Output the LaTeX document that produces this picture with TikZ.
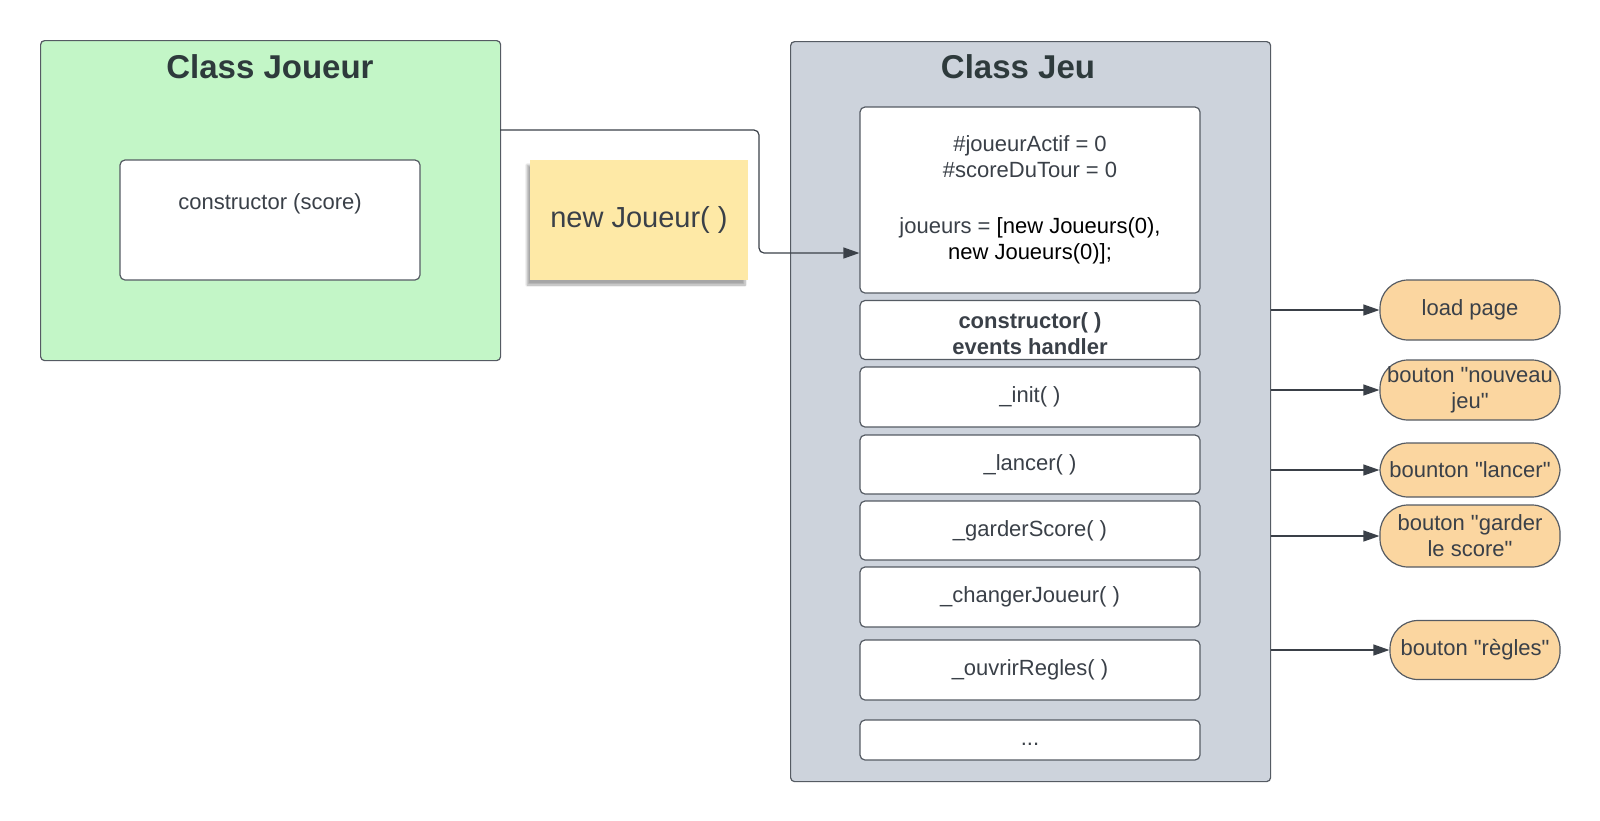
\documentclass[tikz,border=0pt]{standalone}
\usepackage{fontspec}
\setmainfont[Ligatures = TeXOff]{Liberation Sans}
\usetikzlibrary{arrows.meta, shadows.blur}

\definecolor{joueurgreen}{HTML}{C3F6C7}
\definecolor{jeugray}{HTML}{CDD3DC}
\definecolor{btnorange}{HTML}{FBD6A0}
\definecolor{noteyellow}{HTML}{FEE9A6}
\definecolor{edge}{HTML}{555B63}
\definecolor{ink}{HTML}{3A4048}
\definecolor{titleink}{HTML}{2E3A3C}

\begin{document}
\begin{tikzpicture}[x = 1pt, y = -1pt, > = {Triangle[length = 16pt, width = 11pt]},
    classbox/.style = {draw = edge, line width = 1.2pt, rounded corners = 4pt, anchor = north west},
    classtitle/.style = {text = titleink, font = \fontsize{33}{38}\selectfont\bfseries},
    method/.style = {draw = edge, fill = white, line width = 1.2pt, rounded corners = 5pt,
        minimum width = 340pt, text = ink, align = center, font = \fontsize{22}{26}\selectfont},
    button/.style = {draw = edge, fill = btnorange, line width = 1.2pt, rounded corners = 28pt,
        minimum width = 180pt, minimum height = 60pt, inner sep = 0pt, text = ink, align = center,
        font = \fontsize{22}{26}\selectfont},
    link/.style = {->, draw = ink, line width = 1.2pt}]

    \useasboundingbox (0, 0) rectangle (1600, 820);

    % Class Joueur.
    \node[classbox, fill = joueurgreen, minimum width = 460pt, minimum height = 320pt] (joueur) at (40, 40) {};
    \node[classtitle] (joueurtitle) at (270, 67) {Class Joueur};
    \node[method, minimum width = 300pt, minimum height = 120pt,
        label = {[text = ink, font = \fontsize{22}{26}\selectfont, anchor = north, yshift = -31pt]north:constructor (score)}]
        (ctor) at (270, 220) {};

    % Sticky note.
    \node[fill = noteyellow, minimum width = 218pt, minimum height = 120pt, text = ink,
        font = \fontsize{29}{33}\selectfont,
        blur shadow = {shadow xshift = -3pt, shadow yshift = -5pt, shadow blur steps = 8, shadow opacity = 35}]
        (note) at (639, 220) {new Joueur( )};

    % Class Jeu.
    \node[classbox, fill = jeugray, minimum width = 480pt, minimum height = 740pt] (jeu) at (790, 41) {};
    \node[classtitle] (jeutitle) at (1018, 67) {Class Jeu};

    \node[method, minimum height = 186pt] (vars) at (1030, 200)
        {\#joueurActif = 0\\ \#scoreDuTour = 0\\[30pt]
         joueurs = \textcolor{black}{[new Joueurs(0),}\\ \textcolor{black}{new Joueurs(0)];}};
    \node[method, minimum height = 59pt, font = \fontsize{22}{26}\selectfont\bfseries] (ctorjeu) at (1030, 330)
        {\raisebox{-11pt}[0pt][0pt]{\begin{tabular}{@{}c@{}}constructor( )\\ events handler\end{tabular}}};
    \node[method, minimum height = 60pt] (init) at (1030, 397) {\_init( )};
    \node[method, minimum height = 59pt] (lancer) at (1030, 464.5) {\_lancer( )};
    \node[method, minimum height = 59pt] (garder) at (1030, 530.5) {\_garderScore( )};
    \node[method, minimum height = 60pt] (changer) at (1030, 597) {\_changerJoueur( )};
    \node[method, minimum height = 60pt] (ouvrir) at (1030, 670) {\_ouvrirRegles( )};
    \node[method, minimum height = 40pt] (etc) at (1030, 740) {\strut...};

    % Buttons.
    \node[button] (loadbtn) at (1470, 310) {load page};
    \node[button] (nouveaubtn) at (1470, 390) {bouton "nouveau\\ jeu"};
    \node[button, minimum height = 54pt] (lancerbtn) at (1470, 470) {bounton "lancer"};
    \node[button, minimum height = 62pt] (garderbtn) at (1470, 536) {bouton "garder\\ le score"};
    \node[button, minimum width = 170pt, minimum height = 59pt] (reglesbtn) at (1475, 650) {bouton "règles"};

    % Joueur to Jeu.
    \coordinate (joueurout) at (500, 130);
    \coordinate (bend) at (759, 253);
    \draw[link, rounded corners = 5pt] (joueurout) -| (bend) -- (vars.west |- bend);

    % Jeu to buttons.
    \draw[link] (jeu.east |- loadbtn.west) to (loadbtn.west);
    \draw[link] (jeu.east |- nouveaubtn.west) to (nouveaubtn.west);
    \draw[link] (jeu.east |- lancerbtn.west) to (lancerbtn.west);
    \draw[link] (jeu.east |- garderbtn.west) to (garderbtn.west);
    \draw[link] (jeu.east |- reglesbtn.west) to (reglesbtn.west);
\end{tikzpicture}
\end{document}
